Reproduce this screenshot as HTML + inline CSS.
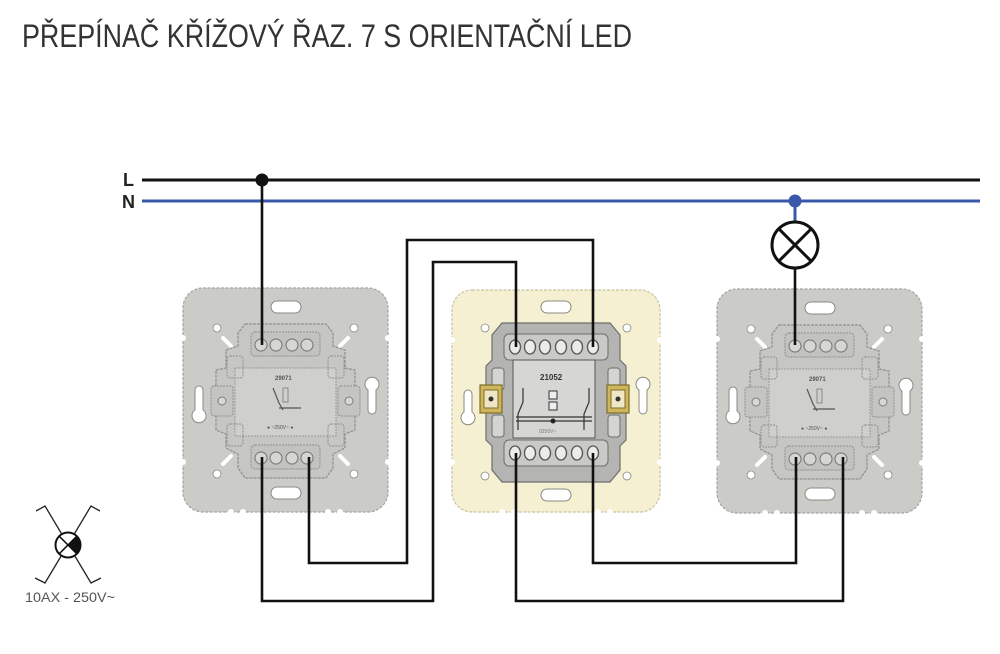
<!DOCTYPE html>
<html><head><meta charset="utf-8"><style>
html,body{margin:0;padding:0;background:#fff;}
svg{display:block;}
</style></head><body>
<svg width="1000" height="654" viewBox="0 0 1000 654" xmlns="http://www.w3.org/2000/svg">
<defs>
  <g id="side">
    <rect x="0" y="0" width="205" height="224" rx="20" fill="#cbccc8" stroke="#a3a4a0" stroke-width="1.2" stroke-dasharray="3 1.5"/>
    <!-- edge notches -->
    <circle cx="48" cy="224" r="3" fill="#fff"/><circle cx="60" cy="224" r="3" fill="#fff"/>
    <circle cx="145" cy="224" r="3" fill="#fff"/><circle cx="157" cy="224" r="3" fill="#fff"/>
    <circle cx="0" cy="50" r="3" fill="#fff"/><circle cx="205" cy="50" r="3" fill="#fff"/>
    <circle cx="0" cy="174" r="3" fill="#fff"/><circle cx="205" cy="174" r="3" fill="#fff"/>
    <!-- slots -->
    <rect x="88" y="13" width="30" height="12" rx="6" fill="#fff" stroke="#8a8a88" stroke-width="1"/>
    <rect x="88" y="199" width="30" height="12" rx="6" fill="#fff" stroke="#8a8a88" stroke-width="1"/>
    <path d="M12 102 a4 4 0 0 1 8 0 v20 a7 7 0 1 1 -8 0 z" fill="#fff" stroke="#8a8a88"/>
    <path d="M185 102 a7 7 0 1 1 8 0 v20 a4 4 0 0 1 -8 0 z" fill="#fff" stroke="#8a8a88"/>
    <!-- corner holes -->
    <circle cx="34" cy="40" r="4" fill="#fff" stroke="#8a8a88" stroke-width=".8"/>
    <circle cx="171" cy="40" r="4" fill="#fff" stroke="#8a8a88" stroke-width=".8"/>
    <circle cx="34" cy="186" r="4" fill="#fff" stroke="#8a8a88" stroke-width=".8"/>
    <circle cx="171" cy="186" r="4" fill="#fff" stroke="#8a8a88" stroke-width=".8"/>
    <line x1="40" y1="50" x2="48" y2="58" stroke="#fff" stroke-width="4" stroke-linecap="round"/>
    <line x1="165" y1="50" x2="157" y2="58" stroke="#fff" stroke-width="4" stroke-linecap="round"/>
    <line x1="40" y1="176" x2="48" y2="168" stroke="#fff" stroke-width="4" stroke-linecap="round"/>
    <line x1="165" y1="176" x2="157" y2="168" stroke="#fff" stroke-width="4" stroke-linecap="round"/>
    <!-- mechanism outline -->
    <path d="M62 36 H143 L150 45 V58 L162 62 V80 L172 82 V142 L162 146 V160 L150 166 V180 L143 190 H62 L55 180 V166 L43 160 V146 L33 142 V82 L43 80 V62 L55 58 V45 Z" fill="#c6c7c3" stroke="#8f908c" stroke-width="1.2" stroke-dasharray="3 1"/>
    <rect x="68" y="44" width="69" height="24" rx="4" fill="#c2c3bf" stroke="#8f908c" stroke-dasharray="2 1"/>
    <rect x="68" y="157" width="69" height="24" rx="4" fill="#c2c3bf" stroke="#8f908c" stroke-dasharray="2 1"/>
    <g fill="#d6d7d3" stroke="#7e7f7b" stroke-width="1.2">
      <circle cx="78" cy="57" r="6"/><circle cx="93" cy="57" r="6"/><circle cx="109" cy="57" r="6"/><circle cx="124" cy="57" r="6"/>
      <circle cx="78" cy="170" r="6"/><circle cx="93" cy="170" r="6"/><circle cx="109" cy="170" r="6"/><circle cx="124" cy="170" r="6"/>
    </g>
    <rect x="28" y="98" width="22" height="30" rx="3" fill="#c4c5c1" stroke="#8f908c" stroke-dasharray="2 1"/>
    <rect x="155" y="98" width="22" height="30" rx="3" fill="#c4c5c1" stroke="#8f908c" stroke-dasharray="2 1"/>
    <circle cx="39" cy="113" r="4" fill="#d8d9d5" stroke="#7e7f7b"/>
    <circle cx="166" cy="113" r="4" fill="#d8d9d5" stroke="#7e7f7b"/>
    <rect x="52" y="80" width="101" height="68" fill="#cfd0cc" stroke="#9a9b97" stroke-dasharray="2 1"/>
    <rect x="44" y="68" width="16" height="22" rx="3" fill="none" stroke="#8f908c" stroke-dasharray="2 1"/>
    <rect x="145" y="68" width="16" height="22" rx="3" fill="none" stroke="#8f908c" stroke-dasharray="2 1"/>
    <rect x="44" y="136" width="16" height="22" rx="3" fill="none" stroke="#8f908c" stroke-dasharray="2 1"/>
    <rect x="145" y="136" width="16" height="22" rx="3" fill="none" stroke="#8f908c" stroke-dasharray="2 1"/>
    <text x="92" y="92" font-family="Liberation Sans, sans-serif" font-size="6" font-weight="bold" fill="#555">29071</text>
    <path d="M90 100 L96 115 L100 122 M96 120 H118" stroke="#555" stroke-width="1.2" fill="none"/>
    <rect x="100" y="100" width="5" height="14" fill="none" stroke="#777" stroke-width=".8"/>
    <text x="84" y="141" font-family="Liberation Sans, sans-serif" font-size="5" fill="#555">● ~250V~ ●</text>
  </g>
  <g id="mid">
    <rect x="0" y="0" width="208" height="222" rx="20" fill="#f6f0d2" stroke="#c9c2a2" stroke-width="1.2" stroke-dasharray="3 1.5"/>
    <circle cx="50" cy="222" r="3" fill="#fff"/><circle cx="62" cy="222" r="3" fill="#fff"/>
    <circle cx="146" cy="222" r="3" fill="#fff"/><circle cx="158" cy="222" r="3" fill="#fff"/>
    <circle cx="0" cy="50" r="3" fill="#fff"/><circle cx="208" cy="50" r="3" fill="#fff"/>
    <circle cx="0" cy="172" r="3" fill="#fff"/><circle cx="208" cy="172" r="3" fill="#fff"/>
    <rect x="89" y="11" width="30" height="12" rx="6" fill="#fff" stroke="#8a8a80"/>
    <rect x="89" y="199" width="30" height="12" rx="6" fill="#fff" stroke="#8a8a80"/>
    <path d="M12 104 a4 4 0 0 1 8 0 v18 a7 7 0 1 1 -8 0 z" fill="#fff" stroke="#8a8a80"/>
    <path d="M187 100 a7 7 0 1 1 8 0 v20 a4 4 0 0 1 -8 0 z" fill="#fff" stroke="#8a8a80"/>
    <circle cx="33" cy="38" r="4" fill="#fff" stroke="#8a8a80" stroke-width=".8"/>
    <circle cx="175" cy="38" r="4" fill="#fff" stroke="#8a8a80" stroke-width=".8"/>
    <circle cx="33" cy="186" r="4" fill="#fff" stroke="#8a8a80" stroke-width=".8"/>
    <circle cx="175" cy="186" r="4" fill="#fff" stroke="#8a8a80" stroke-width=".8"/>
    <!-- mechanism -->
    <path d="M50 33 H158 L168 45 V70 L174 76 V150 L168 156 V180 L158 192 H50 L40 180 V156 L34 150 V76 L40 70 V45 Z" fill="#b4b5b2" stroke="#6d6e6b" stroke-width="1.2"/>
    <rect x="52" y="44" width="104" height="26" rx="5" fill="#c9cac7" stroke="#6d6e6b"/>
    <rect x="52" y="150" width="104" height="26" rx="5" fill="#c9cac7" stroke="#6d6e6b"/>
    <g fill="#ecece9" stroke="#555" stroke-width="1.3">
      <ellipse cx="63" cy="57" rx="5.5" ry="7"/><ellipse cx="78" cy="57" rx="5.5" ry="7"/><ellipse cx="93" cy="57" rx="5.5" ry="7"/><ellipse cx="109" cy="57" rx="5.5" ry="7"/><ellipse cx="125" cy="57" rx="5.5" ry="7"/><ellipse cx="141" cy="57" rx="5.5" ry="7"/>
      <ellipse cx="63" cy="163" rx="5.5" ry="7"/><ellipse cx="78" cy="163" rx="5.5" ry="7"/><ellipse cx="93" cy="163" rx="5.5" ry="7"/><ellipse cx="109" cy="163" rx="5.5" ry="7"/><ellipse cx="125" cy="163" rx="5.5" ry="7"/><ellipse cx="141" cy="163" rx="5.5" ry="7"/>
    </g>
    <rect x="40" y="78" width="12" height="22" rx="3" fill="#d4d4d0" stroke="#6d6e6b"/>
    <rect x="156" y="78" width="12" height="22" rx="3" fill="#d4d4d0" stroke="#6d6e6b"/>
    <rect x="40" y="125" width="12" height="22" rx="3" fill="#d4d4d0" stroke="#6d6e6b"/>
    <rect x="156" y="125" width="12" height="22" rx="3" fill="#d4d4d0" stroke="#6d6e6b"/>
    <rect x="61" y="70" width="82" height="78" fill="#d6d6d4" stroke="#555" stroke-width="1"/>
    <text x="88" y="90" font-family="Liberation Sans, sans-serif" font-size="8" font-weight="bold" fill="#333">21052</text>
    <path d="M71 98 V112 L66 124 V140 M137 98 V112 L132 124 V140 M64 127 H140 M64 131 H140" stroke="#333" stroke-width="1.2" fill="none"/>
    <circle cx="101" cy="131" r="2.5" fill="#222"/>
    <rect x="97" y="101" width="8" height="8" fill="#eee" stroke="#333"/>
    <rect x="97" y="112" width="8" height="8" fill="#eee" stroke="#333"/>
    <text x="87" y="143" font-family="Liberation Sans, sans-serif" font-size="5" fill="#777">0250V~</text>
    <!-- gold tabs -->
    <rect x="28" y="95" width="22" height="28" fill="#cfb55c" stroke="#7f6d2a" stroke-width="1.2"/>
    <rect x="32" y="100" width="14" height="18" fill="#eee6c4" stroke="#7f6d2a"/>
    <circle cx="39" cy="109" r="2.5" fill="#333"/>
    <rect x="155" y="95" width="22" height="28" fill="#cfb55c" stroke="#7f6d2a" stroke-width="1.2"/>
    <rect x="159" y="100" width="14" height="18" fill="#eee6c4" stroke="#7f6d2a"/>
    <circle cx="166" cy="109" r="2.5" fill="#333"/>
  </g>
</defs>

<!-- Title -->
<text x="22" y="47" font-family="'Liberation Sans Narrow','Liberation Sans',sans-serif" font-size="32" fill="#333" textLength="610" lengthAdjust="spacingAndGlyphs">PŘEPÍNAČ KŘÍŽOVÝ ŘAZ. 7 S ORIENTAČNÍ LED</text>

<!-- plates -->
<use href="#side" x="183" y="288"/>
<use href="#mid" x="452" y="290"/>
<use href="#side" x="717" y="289"/>

<!-- L / N -->
<text x="123" y="186" font-family="Liberation Sans, sans-serif" font-size="18" font-weight="bold" fill="#222">L</text>
<text x="122" y="208" font-family="Liberation Sans, sans-serif" font-size="18" font-weight="bold" fill="#222">N</text>
<line x1="142" y1="180" x2="980" y2="180" stroke="#111" stroke-width="3"/>
<line x1="142" y1="201" x2="980" y2="201" stroke="#3a58aa" stroke-width="3"/>

<!-- wires -->
<g fill="none" stroke="#111" stroke-width="2.6" stroke-linejoin="miter">
  <polyline points="262,180 262,345"/>
  <polyline points="262,457 262,601 433,601 433,262 516,262 516,347"/>
  <polyline points="309,457 309,563 407,563 407,240 593,240 593,347"/>
  <polyline points="516,453 516,601 843,601 843,457"/>
  <polyline points="593,453 593,563 796,563 796,457"/>
  <polyline points="795,268 795,345"/>
</g>
<circle cx="262" cy="180" r="6.5" fill="#111"/>
<line x1="795" y1="201" x2="795" y2="222" stroke="#3a58aa" stroke-width="3"/>
<circle cx="795" cy="201" r="6.5" fill="#3a58aa"/>
<!-- lamp -->
<circle cx="795" cy="245" r="23" fill="#fff" stroke="#111" stroke-width="3"/>
<line x1="778.7" y1="228.7" x2="811.3" y2="261.3" stroke="#111" stroke-width="3"/>
<line x1="811.3" y1="228.7" x2="778.7" y2="261.3" stroke="#111" stroke-width="3"/>

<!-- legend symbol -->
<g fill="none" stroke="#222" stroke-width="1.3">
  <polyline points="36,511 45,506 91,583 101,578"/>
  <polyline points="100,511 91,506 45,583 35,578"/>
</g>
<circle cx="68" cy="545" r="12.5" fill="#fff" stroke="#111" stroke-width="2"/>
<path d="M68 545 L76.8 536.2 A12.5 12.5 0 0 1 76.8 553.8 Z" fill="#111"/>
<line x1="59.2" y1="536.2" x2="76.8" y2="553.8" stroke="#111" stroke-width="1.5"/>
<line x1="76.8" y1="536.2" x2="59.2" y2="553.8" stroke="#111" stroke-width="1.5"/>
<text x="25" y="602" font-family="Liberation Sans, sans-serif" font-size="13.5" fill="#555" textLength="90" lengthAdjust="spacingAndGlyphs">10AX - 250V~</text>
</svg>
</body></html>
